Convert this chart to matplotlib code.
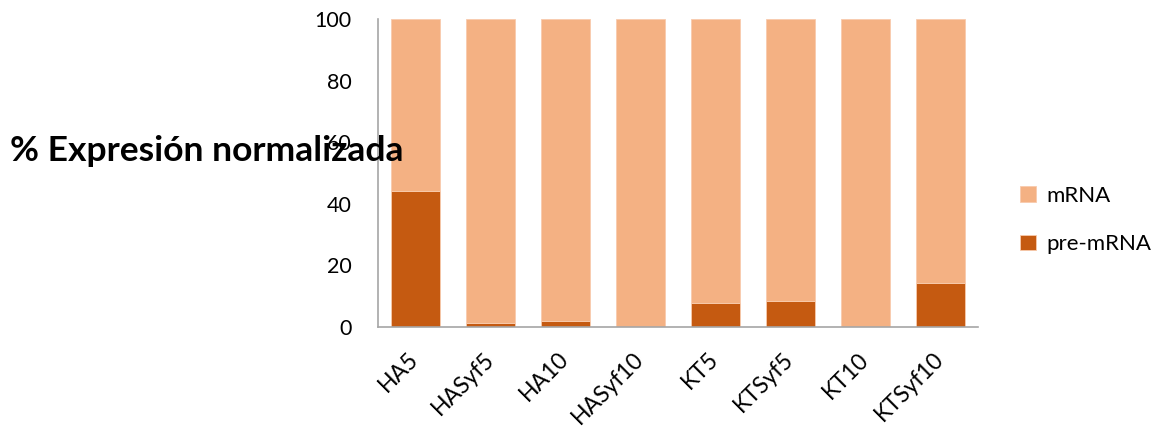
import matplotlib.pyplot as plt
import numpy as np

# -----------------------------
# Data
# -----------------------------
samples = ["HA5", "HASyf5", "HA10", "HASyf10", "KT5", "KTSyf5", "KT10", "KTSyf10"]
pre_mrna = [44.1, 1.1, 2.0, 0.0, 7.6, 8.4, 0.0, 14.1]
mrna = [100 - v for v in pre_mrna]
y_ticks = [0, 20, 40, 60, 80, 100]

col_mrna = "#F4B183"
col_pre = "#C55A11"

plt.rcParams['font.family'] = ['Lato', 'DejaVu Sans']

# -----------------------------
# Plot
# -----------------------------
fig = plt.figure(figsize=(11.58, 4.26), dpi=100)
ax = fig.add_axes([0.3264, 0.2331, 0.5181, 0.7216])

x = np.arange(len(samples))
b_pre = ax.bar(x, pre_mrna, width=0.65, color=col_pre, edgecolor="#F8CBAD", linewidth=0.6, label="pre-mRNA")
b_mrna = ax.bar(x, mrna, bottom=pre_mrna, width=0.65, color=col_mrna, edgecolor="#F8CBAD", linewidth=0.6, label="mRNA")

ax.set_xlim(-0.5, len(samples) - 0.5)
ax.set_ylim(0, 100)
ax.set_yticks(y_ticks)
ax.set_yticklabels([str(t) for t in y_ticks], fontsize=15.5)
ax.set_xticks(x)
ax.set_xticklabels(samples, fontsize=16.5, rotation=45, ha='right', va='center', rotation_mode='anchor')
ax.tick_params(axis='y', length=0, pad=19)
ax.tick_params(axis='x', length=0, pad=21)

for s in ['top', 'right']:
    ax.spines[s].set_visible(False)
for s in ['left', 'bottom']:
    ax.spines[s].set_color("#A6A6A6")
    ax.spines[s].set_linewidth(1.2)

# y label drawn horizontally across the axis
fig.text(10 / 1158, 1 - 151 / 426, "% Expresión normalizada", fontsize=25.5, fontweight='bold',
         ha='left', va='center', zorder=5)

leg = fig.legend(handles=[b_mrna, b_pre], labels=["mRNA", "pre-mRNA"], loc='center left',
                 bbox_to_anchor=(1000 / 1158, 1 - 220 / 426), frameon=False, fontsize=16,
                 handlelength=0.7, handleheight=0.7, labelspacing=1.3, handletextpad=0.5)

fig.savefig("out.png", dpi=100)
